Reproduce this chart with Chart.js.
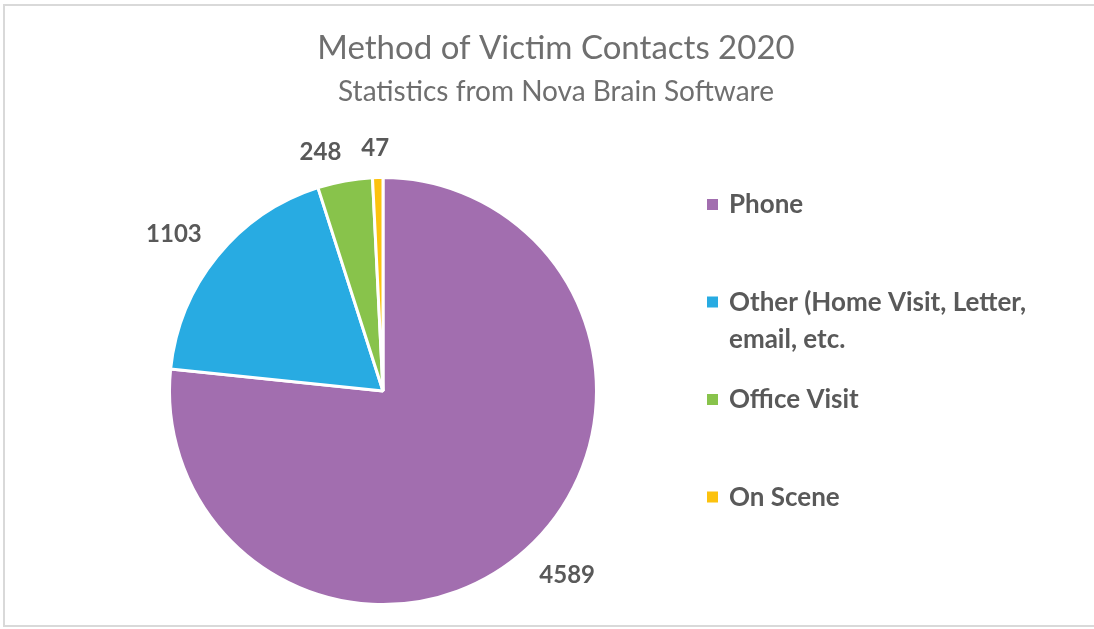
<!DOCTYPE html>
<html>
<head>
<meta charset="utf-8">
<script src="https://cdn.jsdelivr.net/npm/chart.js@4/dist/chart.umd.min.js"></script>
<style>
  html, body { margin: 0; padding: 0; background: #fff; }
  #wrap { position: relative; width: 1094px; height: 629px; }
</style>
</head>
<body>
<div id="wrap"><canvas id="myChart" width="1094" height="629"></canvas></div>
<script>
var chartTitle = 'Method of Victim Contacts 2020';
var chartSubtitle = 'Statistics from Nova Brain Software';
var categories = ['Phone', 'Other (Home Visit, Letter, email, etc.', 'Office Visit', 'On Scene'];
var contacts = [4589, 1103, 248, 47];
var sliceColors = ['#a26eaf', '#28abe2', '#88c34b', '#fcc20e'];

var textGray = '#595959';

// frame + titles drawn on the canvas
var framePlugin = {
    id: 'frame',
    beforeDraw: function(chart) {
        var ctx = chart.ctx;
        ctx.save();
        ctx.strokeStyle = '#d9d9d9';
        ctx.lineWidth = 2;
        ctx.strokeRect(4, 5, 1100, 621);
        ctx.fillStyle = '#6f6f6f';
        ctx.textAlign = 'center';
        ctx.textBaseline = 'middle';
        ctx.font = '33px Lato';
        ctx.fillText(chartTitle, 556, 48);
        ctx.font = '28px Lato';
        ctx.fillText(chartSubtitle, 556, 92);
        ctx.restore();
    }
};

// value labels outside each slice: nearest corner of the text box sits on the mid-angle ray
var outsideLabels = {
    id: 'outsideLabels',
    afterDatasetsDraw: function(chart) {
        var ctx = chart.ctx;
        var meta = chart.getDatasetMeta(0);
        ctx.save();
        ctx.font = 'bold 24px Lato';
        ctx.fillStyle = textGray;
        ctx.textAlign = 'center';
        ctx.textBaseline = 'middle';
        meta.data.forEach(function(arc, i) {
            var p = arc.getProps(['x', 'y', 'startAngle', 'endAngle', 'outerRadius'], true);
            var mid = (p.startAngle + p.endAngle) / 2;
            var dx = Math.cos(mid), dy = Math.sin(mid);
            var txt = String(contacts[i]);
            var w = ctx.measureText(txt).width, h = 20;
            var d = p.outerRadius + 20;
            var ax = p.x + dx * d, ay = p.y + dy * d;
            var kx = Math.sign(dx) * Math.min(1, Math.abs(dx) * 6);
            var ky = Math.sign(dy) * Math.min(1, Math.abs(dy) * 6);
            ctx.fillText(txt, ax + kx * w / 2, ay + ky * h / 2 + 1);
        });
        ctx.restore();
    }
};

// legend on the right, wrapped like the original
var sideLegend = {
    id: 'sideLegend',
    afterDraw: function(chart) {
        var ctx = chart.ctx;
        var x0 = 712, y = 204, step = 97.5, lineH = 37, maxW = 330;
        ctx.save();
        ctx.font = 'bold 26px Lato';
        ctx.textBaseline = 'middle';
        ctx.textAlign = 'left';
        chart.data.labels.forEach(function(label, i) {
            var words = label.split(' ');
            var lines = [], cur = '';
            words.forEach(function(wd) {
                var test = cur ? cur + ' ' + wd : wd;
                if (ctx.measureText(test).width > maxW && cur) {
                    lines.push(cur);
                    cur = wd;
                } else {
                    cur = test;
                }
            });
            lines.push(cur);
            ctx.fillStyle = chart.data.datasets[0].backgroundColor[i];
            ctx.fillRect(x0 - 5, y - 5, 11, 11);
            ctx.fillStyle = textGray;
            lines.forEach(function(ln, j) {
                ctx.fillText(ln, x0 + 17, y + 1 + j * lineH);
            });
            y += step;
        });
        ctx.restore();
    }
};

var ctx = document.getElementById('myChart').getContext('2d');
var chart = new Chart(ctx, {
    type: 'pie',
    data: {
        labels: categories,
        datasets: [{
            data: contacts,
            backgroundColor: sliceColors,
            borderColor: '#ffffff',
            borderWidth: 3
        }]
    },
    options: {
        responsive: false,
        animation: false,
        layout: { padding: { top: 175, bottom: 22, left: 168, right: 496 } },
        plugins: {
            legend: { display: false },
            title: { display: false },
            tooltip: { enabled: false }
        }
    },
    plugins: [framePlugin, outsideLabels, sideLegend]
});
</script>
</body>
</html>
